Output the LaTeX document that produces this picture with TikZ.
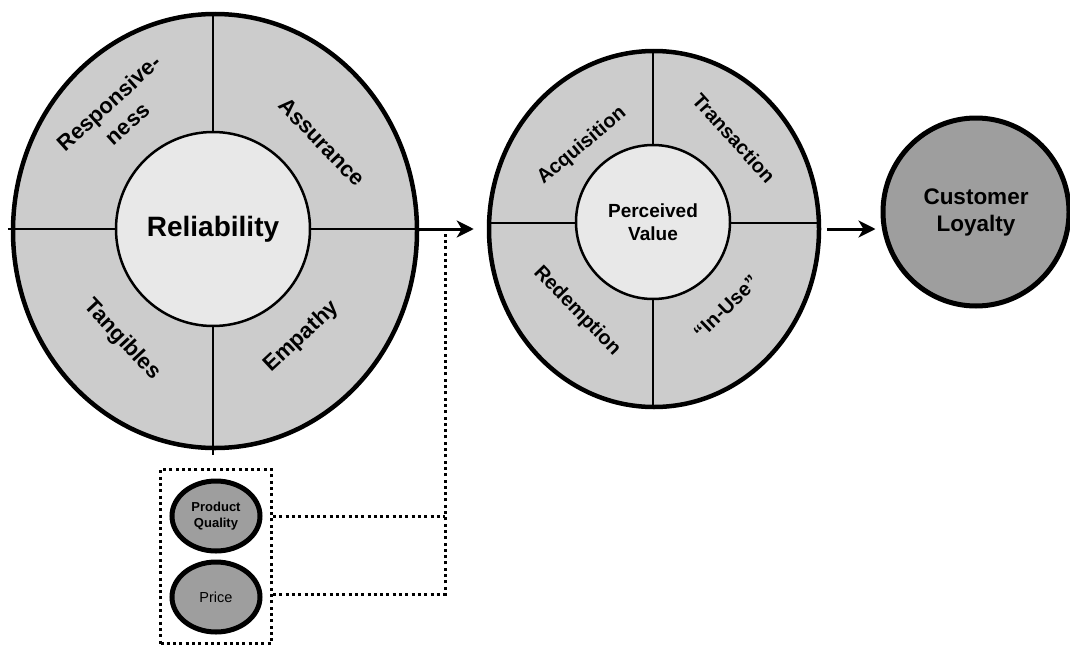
\documentclass[tikz,border=0pt]{standalone}
\usepackage{fontspec}
\setmainfont{Liberation Sans}
\usepackage{tikz}
\usetikzlibrary{shapes.geometric, arrows.meta, fit, calc}
\definecolor{ringgray}{gray}{0.80}
\definecolor{coregray}{gray}{0.91}
\definecolor{darkgray}{gray}{0.62}
\tikzstyle{ring} = [ellipse, inner sep=0pt, draw=black, line width=4.5pt, fill=ringgray]
\tikzstyle{core} = [circle, inner sep=0pt, text centered, draw=black, line width=2.5pt, fill=coregray]
\tikzstyle{outcome} = [ellipse, inner sep=0pt, text centered, draw=black, line width=5pt, fill=darkgray]
\tikzstyle{factor} = [ellipse, inner sep=0pt, minimum width=88pt, minimum height=70pt, text centered, draw=black, line width=5pt, fill=darkgray]
\tikzstyle{bigseg} = [align=center, font=\bfseries\fontsize{22}{28}\selectfont]
\tikzstyle{smallseg} = [align=center, font=\bfseries\fontsize{20}{24}\selectfont]
\tikzstyle{divider} = [line width=2.5pt]
\tikzstyle{arrow} = [line width=3pt,-{Stealth[length=17pt, width=17pt, inset=5pt]}]
\tikzstyle{dotlink} = [line width=3pt, dash pattern=on 3pt off 3.3pt]
\tikzstyle{group} = [draw, dotlink, rectangle, inner xsep=9pt, inner ysep=9pt]

\begin{document}
\begin{tikzpicture}[x=1pt, y=-1pt]
        \useasboundingbox (0,0) rectangle (1070,645);

        % service quality
        \node[ring, minimum width=404pt, minimum height=434pt] (Service) at (215,231) {};
        \coordinate (RelHub) at (213,229);
        \draw[divider] (RelHub |- Service.north) -- ($(RelHub |- Service.south)+(0,5)$);
        \draw[divider] ($(Service.west |- RelHub)+(-3,0)$) -- (Service.east |- RelHub);
        \node[core, minimum size=194pt, font=\bfseries\fontsize{28}{32}\selectfont] (Reliability) at (RelHub) {Reliability};
        \node[bigseg, rotate=42] (Responsive) at (118,113) {Responsive-\\ness};
        \node[bigseg, rotate=-46] (Assurance) at (322,142) {Assurance};
        \node[bigseg, rotate=-47] (Tangibles) at (122,340) {Tangibles};
        \node[bigseg, rotate=43] (Empathy) at (302,337) {Empathy};

        % perceived value
        \node[ring, minimum width=330pt, minimum height=356pt] (VR) at (654,229) {};
        \coordinate (PVHub) at (653,223);
        \draw[divider] (PVHub |- VR.north) -- (PVHub |- VR.south);
        \draw[divider] (VR.west |- PVHub) -- (VR.east |- PVHub);
        \node[core, minimum size=154pt, font=\bfseries\fontsize{19}{23}\selectfont, align=center] (Perceived) at (653,222) {Perceived\\Value};
        \node[smallseg, rotate=40] (Acquisition) at (582,146) {Acquisition};
        \node[smallseg, rotate=-48] (Transaction) at (734,138) {Transaction};
        \node[smallseg, rotate=-46] (Redemption) at (577,311) {Redemption};
        \node[smallseg, rotate=44] (InUse) at (726,307) {“In-Use”};

        \draw[arrow, shorten >=13pt] (Service.east |- RelHub) -- (VR.west |- RelHub);

        % customer loyalty
        \node[outcome, right of=VR, node distance=322pt, yshift=17pt, minimum width=186pt, minimum height=188pt, align=center, font=\bfseries\fontsize{22.5}{27}\selectfont] (Loyalty) {Customer\\Loyalty};
        \draw[arrow, shorten <=6pt, shorten >=5pt] (VR.east) -- (VR.east -| Loyalty.west);

        % product quality and price
        \node[factor, align=center, font=\bfseries\fontsize{13}{16}\selectfont] (PQ) at (216,516) {Product\\Quality};
        \node[factor, below of=PQ, node distance=81pt, font=\fontsize{14.5}{17}\selectfont] (Price) {Price};
        \node[group, fit=(PQ) (Price)] (Factors) {};
        \coordinate (Join) at (445,234);
        \draw[dotlink] (Factors.east |- PQ) -- (Join |- PQ);
        \draw[dotlink] ($(Factors.east |- Price)+(0,-3)$) -| (Join);
    \end{tikzpicture}
\end{document}
